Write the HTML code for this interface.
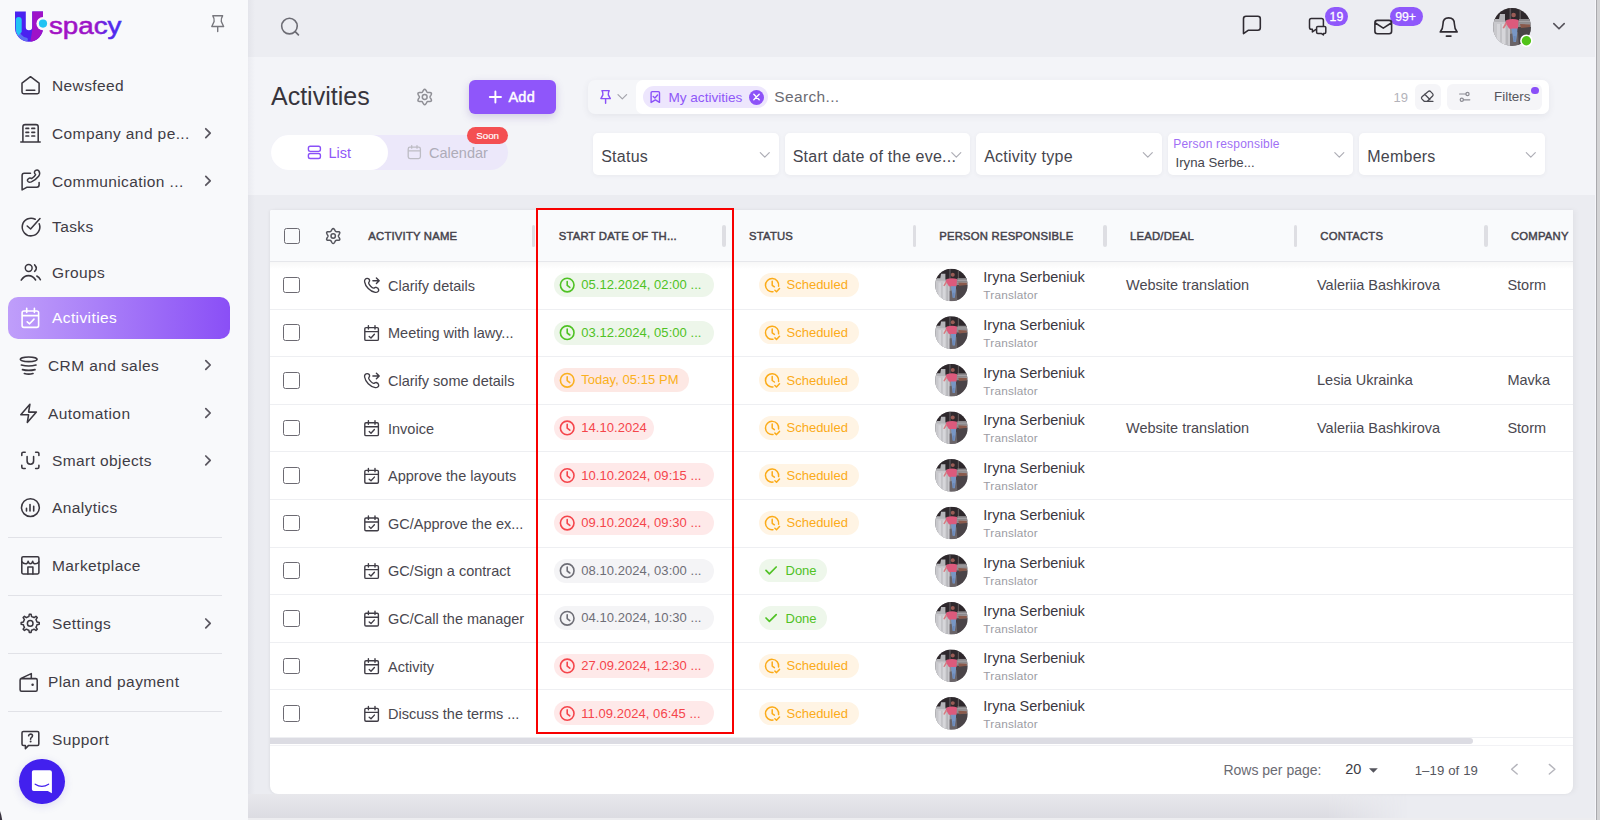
<!DOCTYPE html>
<html lang="en"><head><meta charset="utf-8"><title>Activities</title>
<style>
*{margin:0;padding:0;box-sizing:content-box;}
html,body{width:1600px;height:820px;overflow:hidden;background:#ecedf2;}
body{position:relative;font-family:"Liberation Sans", Arial, sans-serif;}
.t{position:absolute;white-space:nowrap;}
.b{position:absolute;}
.pill{border-radius:999px;}
#ov{position:absolute;left:0;top:0;overflow:visible;}
#ov path,#ov circle,#ov ellipse{stroke-linecap:round;stroke-linejoin:round;}
</style></head>
<body>
<div class="b" style="left:248px;top:0px;width:1348px;height:57px;background:#ecedf2;"></div>
<div class="b" style="left:248px;top:57px;width:1348px;height:138px;background:#f3f4f8;"></div>
<div class="b" style="left:248px;top:195px;width:1348px;height:625px;background:#ebecf1;"></div>
<div class="b" style="left:0px;top:0px;width:248px;height:820px;background:#f8f9fb;"></div>
<div class="b" style="left:248px;top:0px;width:7px;height:820px;background:linear-gradient(90deg,rgba(40,40,70,0.045),rgba(40,40,70,0));"></div>
<div class="b" style="left:8px;top:297px;width:222px;height:42px;border-radius:10px;background:linear-gradient(90deg,#bf9efa 0%,#aa80f8 40%,#8a4ff6 100%);"></div>
<div class="b" style="left:8px;top:537px;width:214px;height:1px;background:#e1e2e7;"></div>
<div class="b" style="left:8px;top:595px;width:214px;height:1px;background:#e1e2e7;"></div>
<div class="b" style="left:8px;top:653px;width:214px;height:1px;background:#e1e2e7;"></div>
<div class="b" style="left:8px;top:711.2px;width:214px;height:1px;background:#e1e2e7;"></div>
<div class="t" style="left:52px;top:78px;font-size:15.5px;line-height:15.5px;color:#3f3c45;font-weight:400;letter-spacing:0.4px;">Newsfeed</div>
<div class="t" style="left:52px;top:126px;font-size:15.5px;line-height:15.5px;color:#3f3c45;font-weight:400;letter-spacing:0.4px;">Company and pe...</div>
<div class="t" style="left:52px;top:174px;font-size:15.5px;line-height:15.5px;color:#3f3c45;font-weight:400;letter-spacing:0.4px;">Communication ...</div>
<div class="t" style="left:52px;top:219px;font-size:15.5px;line-height:15.5px;color:#3f3c45;font-weight:400;letter-spacing:0.4px;">Tasks</div>
<div class="t" style="left:52px;top:265px;font-size:15.5px;line-height:15.5px;color:#3f3c45;font-weight:400;letter-spacing:0.4px;">Groups</div>
<div class="t" style="left:52px;top:310px;font-size:15.5px;line-height:15.5px;color:#ffffff;font-weight:400;letter-spacing:0.4px;">Activities</div>
<div class="t" style="left:48px;top:358px;font-size:15.5px;line-height:15.5px;color:#3f3c45;font-weight:400;letter-spacing:0.4px;">CRM and sales</div>
<div class="t" style="left:48px;top:406px;font-size:15.5px;line-height:15.5px;color:#3f3c45;font-weight:400;letter-spacing:0.4px;">Automation</div>
<div class="t" style="left:52px;top:453px;font-size:15.5px;line-height:15.5px;color:#3f3c45;font-weight:400;letter-spacing:0.4px;">Smart objects</div>
<div class="t" style="left:52px;top:500px;font-size:15.5px;line-height:15.5px;color:#3f3c45;font-weight:400;letter-spacing:0.4px;">Analytics</div>
<div class="t" style="left:52px;top:558px;font-size:15.5px;line-height:15.5px;color:#3f3c45;font-weight:400;letter-spacing:0.4px;">Marketplace</div>
<div class="t" style="left:52px;top:616px;font-size:15.5px;line-height:15.5px;color:#3f3c45;font-weight:400;letter-spacing:0.4px;">Settings</div>
<div class="t" style="left:48px;top:674px;font-size:15.5px;line-height:15.5px;color:#3f3c45;font-weight:400;letter-spacing:0.4px;">Plan and payment</div>
<div class="t" style="left:52px;top:732px;font-size:15.5px;line-height:15.5px;color:#3f3c45;font-weight:400;letter-spacing:0.4px;">Support</div>
<div class="b" style="left:19px;top:758.7px;width:45.6px;height:45.6px;border-radius:50%;background:#4220ee;box-shadow:0 2px 10px rgba(40,20,180,0.12);"></div>
<div class="b pill" style="left:1325px;top:7px;width:23px;height:19px;background:#8f58fb;"></div>
<div class="t" style="left:1329.6px;top:11px;font-size:12.3px;line-height:12.3px;color:#fff;font-weight:400;-webkit-text-stroke:0.3px #fff;">19</div>
<div class="b pill" style="left:1390px;top:7px;width:33px;height:19px;background:#8f58fb;"></div>
<div class="t" style="left:1395.2px;top:11px;font-size:12.3px;line-height:12.3px;color:#fff;font-weight:400;-webkit-text-stroke:0.25px #fff;">99+</div>
<div class="b" style="left:1595px;top:0px;width:1px;height:820px;background:#f6f6fa;"></div>
<div class="b" style="left:1596px;top:0px;width:1.2px;height:820px;background:#a9a9ad;"></div>
<div class="b" style="left:1597.2px;top:0px;width:2.8px;height:820px;background:#d3d3d5;"></div>
<div class="t" style="left:271px;top:84px;font-size:25px;line-height:25px;color:#37343c;font-weight:400;">Activities</div>
<div class="b" style="left:469px;top:80px;width:87px;height:34px;border-radius:6px;background:#8f56fa;box-shadow:0 3px 8px rgba(90,60,160,0.22);"></div>
<div class="t" style="left:508.5px;top:90px;font-size:14.5px;line-height:14.5px;color:#fff;font-weight:400;-webkit-text-stroke:0.45px #fff;letter-spacing:0.2px;">Add</div>
<div class="b pill" style="left:271px;top:134.5px;width:237px;height:35.5px;background:#ece8fa;"></div>
<div class="b pill" style="left:271px;top:134.5px;width:117px;height:35.5px;background:#fff;"></div>
<div class="t" style="left:328.5px;top:146px;font-size:14.5px;line-height:14.5px;color:#8f58f8;font-weight:400;">List</div>
<div class="t" style="left:429px;top:146px;font-size:14.5px;line-height:14.5px;color:#aeacb8;font-weight:400;">Calendar</div>
<div class="b pill" style="left:467px;top:126.6px;width:41px;height:17.8px;background:#f44f52;"></div>
<div class="t" style="left:476.2px;top:131px;font-size:9.8px;line-height:9.8px;color:#fff;font-weight:400;-webkit-text-stroke:0.15px #fff;">Soon</div>
<div class="b" style="left:588px;top:80px;width:961px;height:34px;border-radius:7px;background:#f5f6f9;box-shadow:0 2px 7px rgba(60,60,90,0.08);"></div>
<div class="b" style="left:636px;top:80px;width:913px;height:34px;border-radius:7px;background:#fff;"></div>
<div class="b pill" style="left:643px;top:86.1px;width:125px;height:21.5px;background:#ede6fd;"></div>
<div class="t" style="left:668.4px;top:91px;font-size:13.6px;line-height:13.6px;color:#8f58f8;font-weight:400;">My activities</div>
<div class="b" style="left:749px;top:89.5px;width:15px;height:15px;border-radius:50%;background:#8d52f8;"></div>
<div class="t" style="left:774.3px;top:89px;font-size:15.5px;line-height:15.5px;color:#6b6b73;font-weight:400;letter-spacing:0.35px;">Search...</div>
<div class="t" style="left:1393.5px;top:91px;font-size:13px;line-height:13px;color:#b3b3ba;font-weight:400;">19</div>
<div class="b" style="left:1414.5px;top:84px;width:26.5px;height:26px;border-radius:6px;background:#f5f5f8;"></div>
<div class="b" style="left:1447px;top:84px;width:94.5px;height:26px;border-radius:6px;background:#f5f5f8;"></div>
<div class="t" style="left:1494px;top:90px;font-size:13.4px;line-height:13.4px;color:#55555d;font-weight:400;">Filters</div>
<div class="b" style="left:1531.4px;top:86.8px;width:7.6px;height:7.6px;border-radius:50%;background:#8a4ff8;"></div>
<div class="b" style="left:593px;top:133.3px;width:185.5px;height:41.7px;border-radius:5px;background:#fff;box-shadow:0 1px 4px rgba(60,60,90,0.06);"></div>
<div class="t" style="left:601.2px;top:149px;font-size:16px;line-height:16px;color:#45454d;font-weight:400;letter-spacing:0.25px;">Status</div>
<div class="b" style="left:784.5px;top:133.3px;width:185.5px;height:41.7px;border-radius:5px;background:#fff;box-shadow:0 1px 4px rgba(60,60,90,0.06);"></div>
<div class="t" style="left:792.7px;top:149px;font-size:16px;line-height:16px;color:#45454d;font-weight:400;letter-spacing:0.25px;">Start date of the eve...</div>
<div class="b" style="left:976px;top:133.3px;width:185.5px;height:41.7px;border-radius:5px;background:#fff;box-shadow:0 1px 4px rgba(60,60,90,0.06);"></div>
<div class="t" style="left:984.2px;top:149px;font-size:16px;line-height:16px;color:#45454d;font-weight:400;letter-spacing:0.25px;">Activity type</div>
<div class="b" style="left:1167.5px;top:133.3px;width:185.5px;height:41.7px;border-radius:5px;background:#fff;box-shadow:0 1px 4px rgba(60,60,90,0.06);"></div>
<div class="b" style="left:1359px;top:133.3px;width:185.5px;height:41.7px;border-radius:5px;background:#fff;box-shadow:0 1px 4px rgba(60,60,90,0.06);"></div>
<div class="t" style="left:1367.2px;top:149px;font-size:16px;line-height:16px;color:#45454d;font-weight:400;letter-spacing:0.25px;">Members</div>
<div class="t" style="left:1173.3px;top:138px;font-size:12px;line-height:12px;color:#a070f5;font-weight:400;letter-spacing:0.2px;">Person responsible</div>
<div class="t" style="left:1175.5px;top:156px;font-size:13.2px;line-height:13.2px;color:#45454d;font-weight:400;">Iryna Serbe...</div>
<div class="b" style="left:270px;top:210px;width:1303px;height:584px;background:#fff;border-radius:2px 0 8px 8px;box-shadow:-1px 0 3px rgba(0,0,0,0.05),3px 0 5px rgba(0,0,0,0.035);"></div>
<div class="b" style="left:270px;top:210px;width:1303px;height:51px;background:#f9fafc;border-radius:2px 0 0 0;"></div>
<div class="b" style="left:270px;top:261px;width:1303px;height:1px;background:#e6e7eb;"></div>
<div class="b" style="left:270px;top:262px;width:1303px;height:7px;background:linear-gradient(180deg,rgba(0,0,0,0.03),rgba(0,0,0,0));"></div>
<div class="b" style="left:283.5px;top:227.5px;width:16.8px;height:16.8px;border:1.9px solid #6c6a72;border-radius:2.5px;box-sizing:border-box;"></div>
<div class="t" style="left:368.3px;top:231px;font-size:11.3px;line-height:11.3px;color:#45424b;font-weight:400;letter-spacing:0.2px;-webkit-text-stroke:0.45px #45424b;">ACTIVITY NAME</div>
<div class="t" style="left:558.7px;top:231px;font-size:11.3px;line-height:11.3px;color:#45424b;font-weight:400;letter-spacing:0.2px;-webkit-text-stroke:0.45px #45424b;">START DATE OF TH...</div>
<div class="t" style="left:749px;top:231px;font-size:11.3px;line-height:11.3px;color:#45424b;font-weight:400;letter-spacing:0.2px;-webkit-text-stroke:0.45px #45424b;">STATUS</div>
<div class="t" style="left:939.3px;top:231px;font-size:11.3px;line-height:11.3px;color:#45424b;font-weight:400;letter-spacing:0.2px;-webkit-text-stroke:0.45px #45424b;">PERSON RESPONSIBLE</div>
<div class="t" style="left:1130px;top:231px;font-size:11.3px;line-height:11.3px;color:#45424b;font-weight:400;letter-spacing:0.2px;-webkit-text-stroke:0.45px #45424b;">LEAD/DEAL</div>
<div class="t" style="left:1320.3px;top:231px;font-size:11.3px;line-height:11.3px;color:#45424b;font-weight:400;letter-spacing:0.2px;-webkit-text-stroke:0.45px #45424b;">CONTACTS</div>
<div class="t" style="left:1511px;top:231px;font-size:11.3px;line-height:11.3px;color:#45424b;font-weight:400;letter-spacing:0.2px;-webkit-text-stroke:0.45px #45424b;">COMPANY</div>
<div class="b" style="left:531.5px;top:225px;width:3.5px;height:22px;background:#dedee3;border-radius:2px;"></div>
<div class="b" style="left:722px;top:225px;width:3.5px;height:22px;background:#dedee3;border-radius:2px;"></div>
<div class="b" style="left:912.5px;top:225px;width:3.5px;height:22px;background:#dedee3;border-radius:2px;"></div>
<div class="b" style="left:1103px;top:225px;width:3.5px;height:22px;background:#dedee3;border-radius:2px;"></div>
<div class="b" style="left:1293.5px;top:225px;width:3.5px;height:22px;background:#dedee3;border-radius:2px;"></div>
<div class="b" style="left:1484px;top:225px;width:3.5px;height:22px;background:#dedee3;border-radius:2px;"></div>
<div class="b" style="left:283.2px;top:276.70px;width:16.8px;height:16.8px;border:1.9px solid #6c6a72;border-radius:2.5px;box-sizing:border-box;"></div>
<div class="t" style="left:388px;top:279px;font-size:14.5px;line-height:14.5px;color:#4a4850;font-weight:400;">Clarify details</div>
<div class="b pill" style="left:554px;top:272.90px;width:160.3px;height:24px;background:#edf6ea;"></div>
<div class="t" style="left:581.2px;top:278px;font-size:13px;line-height:13px;color:#4fc224;font-weight:400;letter-spacing:0.05px;">05.12.2024, 02:00 ...</div>
<div class="b pill" style="left:759px;top:273.20px;width:99.5px;height:23.6px;background:#fff4e4;"></div>
<div class="t" style="left:786.5px;top:278px;font-size:13px;line-height:13px;color:#fbab18;font-weight:400;">Scheduled</div>
<div class="t" style="left:983.3px;top:270px;font-size:14.5px;line-height:14.5px;color:#3a3740;font-weight:400;">Iryna Serbeniuk</div>
<div class="t" style="left:983.3px;top:290px;font-size:11.8px;line-height:11.8px;color:#9c9ca3;font-weight:400;letter-spacing:0.2px;">Translator</div>
<div class="t" style="left:1126px;top:278px;font-size:14.5px;line-height:14.5px;color:#4a4850;font-weight:400;">Website translation</div>
<div class="t" style="left:1317px;top:278px;font-size:14.5px;line-height:14.5px;color:#4a4850;font-weight:400;">Valeriia Bashkirova</div>
<div class="t" style="left:1507.4px;top:278px;font-size:14.5px;line-height:14.5px;color:#4a4850;font-weight:400;">Storm</div>
<div class="b" style="left:270px;top:308.6px;width:1303px;height:1px;background:#eeeff2;"></div>
<div class="b" style="left:283.2px;top:324.30px;width:16.8px;height:16.8px;border:1.9px solid #6c6a72;border-radius:2.5px;box-sizing:border-box;"></div>
<div class="t" style="left:388px;top:326px;font-size:14.5px;line-height:14.5px;color:#4a4850;font-weight:400;">Meeting with lawy...</div>
<div class="b pill" style="left:554px;top:320.50px;width:160.3px;height:24px;background:#edf6ea;"></div>
<div class="t" style="left:581.2px;top:326px;font-size:13px;line-height:13px;color:#4fc224;font-weight:400;letter-spacing:0.05px;">03.12.2024, 05:00 ...</div>
<div class="b pill" style="left:759px;top:320.80px;width:99.5px;height:23.6px;background:#fff4e4;"></div>
<div class="t" style="left:786.5px;top:326px;font-size:13px;line-height:13px;color:#fbab18;font-weight:400;">Scheduled</div>
<div class="t" style="left:983.3px;top:318px;font-size:14.5px;line-height:14.5px;color:#3a3740;font-weight:400;">Iryna Serbeniuk</div>
<div class="t" style="left:983.3px;top:338px;font-size:11.8px;line-height:11.8px;color:#9c9ca3;font-weight:400;letter-spacing:0.2px;">Translator</div>
<div class="b" style="left:270px;top:356.2px;width:1303px;height:1px;background:#eeeff2;"></div>
<div class="b" style="left:283.2px;top:371.90px;width:16.8px;height:16.8px;border:1.9px solid #6c6a72;border-radius:2.5px;box-sizing:border-box;"></div>
<div class="t" style="left:388px;top:374px;font-size:14.5px;line-height:14.5px;color:#4a4850;font-weight:400;">Clarify some details</div>
<div class="b pill" style="left:554px;top:368.10px;width:135px;height:24px;background:#fde8e4;"></div>
<div class="t" style="left:581.2px;top:373px;font-size:13px;line-height:13px;color:#fab020;font-weight:400;letter-spacing:0.05px;">Today, 05:15 PM</div>
<div class="b pill" style="left:759px;top:368.40px;width:99.5px;height:23.6px;background:#fff4e4;"></div>
<div class="t" style="left:786.5px;top:374px;font-size:13px;line-height:13px;color:#fbab18;font-weight:400;">Scheduled</div>
<div class="t" style="left:983.3px;top:366px;font-size:14.5px;line-height:14.5px;color:#3a3740;font-weight:400;">Iryna Serbeniuk</div>
<div class="t" style="left:983.3px;top:386px;font-size:11.8px;line-height:11.8px;color:#9c9ca3;font-weight:400;letter-spacing:0.2px;">Translator</div>
<div class="t" style="left:1317px;top:373px;font-size:14.5px;line-height:14.5px;color:#4a4850;font-weight:400;">Lesia Ukrainka</div>
<div class="t" style="left:1507.4px;top:373px;font-size:14.5px;line-height:14.5px;color:#4a4850;font-weight:400;">Mavka</div>
<div class="b" style="left:270px;top:403.8px;width:1303px;height:1px;background:#eeeff2;"></div>
<div class="b" style="left:283.2px;top:419.50px;width:16.8px;height:16.8px;border:1.9px solid #6c6a72;border-radius:2.5px;box-sizing:border-box;"></div>
<div class="t" style="left:388px;top:422px;font-size:14.5px;line-height:14.5px;color:#4a4850;font-weight:400;">Invoice</div>
<div class="b pill" style="left:554px;top:415.70px;width:100px;height:24px;background:#fee9e9;"></div>
<div class="t" style="left:581.2px;top:421px;font-size:13px;line-height:13px;color:#f5454b;font-weight:400;letter-spacing:0.05px;">14.10.2024</div>
<div class="b pill" style="left:759px;top:416.00px;width:99.5px;height:23.6px;background:#fff4e4;"></div>
<div class="t" style="left:786.5px;top:421px;font-size:13px;line-height:13px;color:#fbab18;font-weight:400;">Scheduled</div>
<div class="t" style="left:983.3px;top:413px;font-size:14.5px;line-height:14.5px;color:#3a3740;font-weight:400;">Iryna Serbeniuk</div>
<div class="t" style="left:983.3px;top:433px;font-size:11.8px;line-height:11.8px;color:#9c9ca3;font-weight:400;letter-spacing:0.2px;">Translator</div>
<div class="t" style="left:1126px;top:421px;font-size:14.5px;line-height:14.5px;color:#4a4850;font-weight:400;">Website translation</div>
<div class="t" style="left:1317px;top:421px;font-size:14.5px;line-height:14.5px;color:#4a4850;font-weight:400;">Valeriia Bashkirova</div>
<div class="t" style="left:1507.4px;top:421px;font-size:14.5px;line-height:14.5px;color:#4a4850;font-weight:400;">Storm</div>
<div class="b" style="left:270px;top:451.4px;width:1303px;height:1px;background:#eeeff2;"></div>
<div class="b" style="left:283.2px;top:467.10px;width:16.8px;height:16.8px;border:1.9px solid #6c6a72;border-radius:2.5px;box-sizing:border-box;"></div>
<div class="t" style="left:388px;top:469px;font-size:14.5px;line-height:14.5px;color:#4a4850;font-weight:400;">Approve the layouts</div>
<div class="b pill" style="left:554px;top:463.30px;width:160.3px;height:24px;background:#fee9e9;"></div>
<div class="t" style="left:581.2px;top:469px;font-size:13px;line-height:13px;color:#f5454b;font-weight:400;letter-spacing:0.05px;">10.10.2024, 09:15 ...</div>
<div class="b pill" style="left:759px;top:463.60px;width:99.5px;height:23.6px;background:#fff4e4;"></div>
<div class="t" style="left:786.5px;top:469px;font-size:13px;line-height:13px;color:#fbab18;font-weight:400;">Scheduled</div>
<div class="t" style="left:983.3px;top:461px;font-size:14.5px;line-height:14.5px;color:#3a3740;font-weight:400;">Iryna Serbeniuk</div>
<div class="t" style="left:983.3px;top:481px;font-size:11.8px;line-height:11.8px;color:#9c9ca3;font-weight:400;letter-spacing:0.2px;">Translator</div>
<div class="b" style="left:270px;top:499.0px;width:1303px;height:1px;background:#eeeff2;"></div>
<div class="b" style="left:283.2px;top:514.70px;width:16.8px;height:16.8px;border:1.9px solid #6c6a72;border-radius:2.5px;box-sizing:border-box;"></div>
<div class="t" style="left:388px;top:517px;font-size:14.5px;line-height:14.5px;color:#4a4850;font-weight:400;">GC/Approve the ex...</div>
<div class="b pill" style="left:554px;top:510.90px;width:160.3px;height:24px;background:#fee9e9;"></div>
<div class="t" style="left:581.2px;top:516px;font-size:13px;line-height:13px;color:#f5454b;font-weight:400;letter-spacing:0.05px;">09.10.2024, 09:30 ...</div>
<div class="b pill" style="left:759px;top:511.20px;width:99.5px;height:23.6px;background:#fff4e4;"></div>
<div class="t" style="left:786.5px;top:516px;font-size:13px;line-height:13px;color:#fbab18;font-weight:400;">Scheduled</div>
<div class="t" style="left:983.3px;top:508px;font-size:14.5px;line-height:14.5px;color:#3a3740;font-weight:400;">Iryna Serbeniuk</div>
<div class="t" style="left:983.3px;top:528px;font-size:11.8px;line-height:11.8px;color:#9c9ca3;font-weight:400;letter-spacing:0.2px;">Translator</div>
<div class="b" style="left:270px;top:546.6px;width:1303px;height:1px;background:#eeeff2;"></div>
<div class="b" style="left:283.2px;top:562.30px;width:16.8px;height:16.8px;border:1.9px solid #6c6a72;border-radius:2.5px;box-sizing:border-box;"></div>
<div class="t" style="left:388px;top:564px;font-size:14.5px;line-height:14.5px;color:#4a4850;font-weight:400;">GC/Sign a contract</div>
<div class="b pill" style="left:554px;top:558.50px;width:160.3px;height:24px;background:#f4f4f6;"></div>
<div class="t" style="left:581.2px;top:564px;font-size:13px;line-height:13px;color:#6e6e76;font-weight:400;letter-spacing:0.05px;">08.10.2024, 03:00 ...</div>
<div class="b pill" style="left:759px;top:558.60px;width:68px;height:23.6px;background:#eef7eb;"></div>
<div class="t" style="left:785.5px;top:564px;font-size:13px;line-height:13px;color:#4fc224;font-weight:400;">Done</div>
<div class="t" style="left:983.3px;top:556px;font-size:14.5px;line-height:14.5px;color:#3a3740;font-weight:400;">Iryna Serbeniuk</div>
<div class="t" style="left:983.3px;top:576px;font-size:11.8px;line-height:11.8px;color:#9c9ca3;font-weight:400;letter-spacing:0.2px;">Translator</div>
<div class="b" style="left:270px;top:594.2px;width:1303px;height:1px;background:#eeeff2;"></div>
<div class="b" style="left:283.2px;top:609.90px;width:16.8px;height:16.8px;border:1.9px solid #6c6a72;border-radius:2.5px;box-sizing:border-box;"></div>
<div class="t" style="left:388px;top:612px;font-size:14.5px;line-height:14.5px;color:#4a4850;font-weight:400;">GC/Call the manager</div>
<div class="b pill" style="left:554px;top:606.10px;width:160.3px;height:24px;background:#f4f4f6;"></div>
<div class="t" style="left:581.2px;top:611px;font-size:13px;line-height:13px;color:#6e6e76;font-weight:400;letter-spacing:0.05px;">04.10.2024, 10:30 ...</div>
<div class="b pill" style="left:759px;top:606.20px;width:68px;height:23.6px;background:#eef7eb;"></div>
<div class="t" style="left:785.5px;top:612px;font-size:13px;line-height:13px;color:#4fc224;font-weight:400;">Done</div>
<div class="t" style="left:983.3px;top:604px;font-size:14.5px;line-height:14.5px;color:#3a3740;font-weight:400;">Iryna Serbeniuk</div>
<div class="t" style="left:983.3px;top:624px;font-size:11.8px;line-height:11.8px;color:#9c9ca3;font-weight:400;letter-spacing:0.2px;">Translator</div>
<div class="b" style="left:270px;top:641.8px;width:1303px;height:1px;background:#eeeff2;"></div>
<div class="b" style="left:283.2px;top:657.50px;width:16.8px;height:16.8px;border:1.9px solid #6c6a72;border-radius:2.5px;box-sizing:border-box;"></div>
<div class="t" style="left:388px;top:660px;font-size:14.5px;line-height:14.5px;color:#4a4850;font-weight:400;">Activity</div>
<div class="b pill" style="left:554px;top:653.70px;width:160.3px;height:24px;background:#fee9e9;"></div>
<div class="t" style="left:581.2px;top:659px;font-size:13px;line-height:13px;color:#f5454b;font-weight:400;letter-spacing:0.05px;">27.09.2024, 12:30 ...</div>
<div class="b pill" style="left:759px;top:654.00px;width:99.5px;height:23.6px;background:#fff4e4;"></div>
<div class="t" style="left:786.5px;top:659px;font-size:13px;line-height:13px;color:#fbab18;font-weight:400;">Scheduled</div>
<div class="t" style="left:983.3px;top:651px;font-size:14.5px;line-height:14.5px;color:#3a3740;font-weight:400;">Iryna Serbeniuk</div>
<div class="t" style="left:983.3px;top:671px;font-size:11.8px;line-height:11.8px;color:#9c9ca3;font-weight:400;letter-spacing:0.2px;">Translator</div>
<div class="b" style="left:270px;top:689.4000000000001px;width:1303px;height:1px;background:#eeeff2;"></div>
<div class="b" style="left:283.2px;top:705.10px;width:16.8px;height:16.8px;border:1.9px solid #6c6a72;border-radius:2.5px;box-sizing:border-box;"></div>
<div class="t" style="left:388px;top:707px;font-size:14.5px;line-height:14.5px;color:#4a4850;font-weight:400;">Discuss the terms ...</div>
<div class="b pill" style="left:554px;top:701.30px;width:160.3px;height:24px;background:#fee9e9;"></div>
<div class="t" style="left:581.2px;top:707px;font-size:13px;line-height:13px;color:#f5454b;font-weight:400;letter-spacing:0.05px;">11.09.2024, 06:45 ...</div>
<div class="b pill" style="left:759px;top:701.60px;width:99.5px;height:23.6px;background:#fff4e4;"></div>
<div class="t" style="left:786.5px;top:707px;font-size:13px;line-height:13px;color:#fbab18;font-weight:400;">Scheduled</div>
<div class="t" style="left:983.3px;top:699px;font-size:14.5px;line-height:14.5px;color:#3a3740;font-weight:400;">Iryna Serbeniuk</div>
<div class="t" style="left:983.3px;top:719px;font-size:11.8px;line-height:11.8px;color:#9c9ca3;font-weight:400;letter-spacing:0.2px;">Translator</div>
<div class="b" style="left:270px;top:737px;width:1303px;height:1px;background:#eeeff2;"></div>
<div class="b" style="left:270px;top:737.6px;width:1203px;height:6.8px;background:#dcdce3;border-radius:0 4px 4px 0;"></div>
<div class="b" style="left:270px;top:744.5px;width:1303px;height:1px;background:#f2f2f5;"></div>
<div class="t" style="left:1223.4px;top:763px;font-size:14px;line-height:14px;color:#6b6b73;font-weight:400;">Rows per page:</div>
<div class="t" style="left:1345.3px;top:762px;font-size:14.5px;line-height:14.5px;color:#3c3c44;font-weight:400;">20</div>
<div class="t" style="left:1414.7px;top:764px;font-size:13.2px;line-height:13.2px;color:#55555d;font-weight:400;letter-spacing:0.1px;">1–19 of 19</div>
<div class="b" style="left:536px;top:208px;width:198.2px;height:526px;border:2.8px solid #f80000;box-sizing:border-box;"></div>
<div class="b" style="left:248px;top:794px;width:1347px;height:24px;background:linear-gradient(180deg,#e8e8ec,#dcdce2);-webkit-mask-image:linear-gradient(90deg,#000 0,#000 1080px,transparent 1160px);mask-image:linear-gradient(90deg,#000 0,#000 1080px,transparent 1160px);"></div>
<div class="b" style="left:248px;top:818px;width:1347px;height:2px;background:#ededf0;"></div>
<svg id="ov" width="1600" height="820" viewBox="0 0 1600 820" fill="none">
<defs>
<clipPath id="avc"><circle cx="19" cy="19" r="19"/></clipPath>
<linearGradient id="lgU" gradientUnits="userSpaceOnUse" x1="15" y1="0" x2="43" y2="0"><stop offset="0" stop-color="#4a24ee"/><stop offset="0.57" stop-color="#4a22f0"/><stop offset="0.63" stop-color="#9a12cc"/><stop offset="1" stop-color="#a010c6"/></linearGradient>
<linearGradient id="lgT" gradientUnits="userSpaceOnUse" x1="49" y1="0" x2="122" y2="0"><stop offset="0" stop-color="#a311c3"/><stop offset="0.62" stop-color="#9a14c8"/><stop offset="0.8" stop-color="#5a26ea"/><stop offset="1" stop-color="#4a2cf2"/></linearGradient>
</defs>
<clipPath id="uclip"><path d="M15 11.5 H25.8 V27 A3.2 3.2 0 0 0 32.2 27 V11.5 H43 V27.8 A14 14 0 0 1 15 27.8 Z"/></clipPath>
<path d="M15 11.5 H25.8 V27 A3.2 3.2 0 0 0 32.2 27 V11.5 H43 V27.8 A14 14 0 0 1 15 27.8 Z" fill="#4a22f0"/>
<g clip-path="url(#uclip)"><path d="M32.2 0 H50 V50 H29.6 L30.6 40 L32.2 30.5 Z" fill="#9e12c8"/><path d="M17.6 31.2 A12 12 0 0 0 26.2 39.5" stroke="#5d70f2" stroke-width="3.4" fill="none"/><path d="M15.7 20 A3 3 0 0 1 21.7 20 V32 L18.2 35.8 Q15.7 33 15.7 28 Z" fill="#22c3f3"/></g>
<circle cx="43" cy="23.6" r="6.6" fill="#f8f9fb"/><circle cx="43" cy="23.6" r="4.1" fill="#20c3f3"/>
<text x="49" y="33.9" font-family="Liberation Sans, Arial, sans-serif" font-size="24.5" fill="url(#lgT)" stroke="url(#lgT)" stroke-width="0.55" textLength="72.5" lengthAdjust="spacingAndGlyphs">spacy</text>
<path d="M212.8 15.8 H222.6 Q221 18 221.3 21.5 L223.6 26.5 H211.8 L214.1 21.5 Q214.4 18 212.8 15.8 Z M217.7 26.5 V31.5" stroke="#77777d" stroke-width="1.4" fill="none" />
<path d="M205.8 128.8 L210.2 133.2 L205.8 137.6" stroke="#5a5760" stroke-width="1.75" fill="none" />
<path d="M205.8 176.4 L210.2 180.8 L205.8 185.2" stroke="#5a5760" stroke-width="1.75" fill="none" />
<path d="M205.8 360.6 L210.2 365.0 L205.8 369.4" stroke="#5a5760" stroke-width="1.75" fill="none" />
<path d="M205.8 408.6 L210.2 413.0 L205.8 417.4" stroke="#5a5760" stroke-width="1.75" fill="none" />
<path d="M205.8 456.0 L210.2 460.4 L205.8 464.8" stroke="#5a5760" stroke-width="1.75" fill="none" />
<path d="M205.8 619.0 L210.2 623.4 L205.8 627.8" stroke="#5a5760" stroke-width="1.75" fill="none" />
<path d="M22 83.2 L30.5 76.7 L39.1 83.2 V92 Q39.1 93.7 37.4 93.7 H23.7 Q22 93.7 22 92 Z M26.3 90.3 H34.8" stroke="#3a373f" stroke-width="1.55" fill="none" />
<path d="M22.9 141.5 V126.8 Q22.9 124.6 25.1 124.6 H36 Q38.2 124.6 38.2 126.8 V141.5 M20.8 141.9 H40.2" stroke="#3a373f" stroke-width="1.55" fill="none" />
<path d="M26 128.4 H28.6 M31.9 128.4 H34.6 M26 132.3 H28.6 M31.9 132.3 H34.6 M26 136 H28.6 M31.9 136 H34.6" stroke="#3a373f" stroke-width="1.7" fill="none" />
<path d="M30.5 173.2 H24.3 Q22.1 173.2 22.1 175.4 V189.9 L26.7 187.3 H36.6 Q39.1 187.3 39.1 184.8 V182.4" stroke="#3a373f" stroke-width="1.55" fill="none" />
<path d="M35.3 170.6 Q37.4 169.2 38.9 171 Q40.6 173.4 38.6 176.3 Q35.8 179.9 31.4 181.9 Q28.6 183 27.6 181 Q27 179.3 29 178.3 Q30.4 177.8 31.6 178.6 Q34.3 177.2 35.6 174.6 Q34.4 173.6 34.4 172.3 Q34.5 171.2 35.3 170.6 Z" stroke="#3a373f" stroke-width="1.5" fill="none" />
<path d="M39.2 223.8 A8.8 8.8 0 1 1 35.2 219.3" stroke="#3a373f" stroke-width="1.55" fill="none" />
<path d="M27.2 226 L30.6 229 L40 218.6" stroke="#3a373f" stroke-width="1.55" fill="none" />
<circle cx="28.7" cy="268" r="3.4" stroke="#3a373f" stroke-width="1.5" fill="none"/>
<path d="M21.2 280.2 Q24 275.6 28.5 275.6 Q33 275.6 35.6 280 M34.6 264.8 Q36.6 266.6 36.2 269 Q35.9 270.4 34.6 271.4 M36.8 276 Q39.4 277.2 40.4 279.8" stroke="#3a373f" stroke-width="1.55" fill="none" />
<path d="M23.9 311 H36.8 Q38.6 311 38.6 312.8 V325.6 Q38.6 327.4 36.8 327.4 H23.9 Q22.1 327.4 22.1 325.6 V312.8 Q22.1 311 23.9 311 Z M22.1 315.6 H38.6 M26.7 308.3 V312.5 M34.4 308.3 V312.5 M27.2 321.8 L29.6 323.8 L34 319.1" stroke="#ffffff" stroke-width="1.6" fill="none" />
<ellipse cx="28.7" cy="359.3" rx="8.4" ry="2.3" stroke="#3a373f" stroke-width="1.6" fill="none"/>
<path d="M21.4 365 Q28.7 367 36 365 M22.5 369.6 Q28.7 371.3 35 369.6 M24.4 373.5 Q28.7 374.6 33 373.5" stroke="#3a373f" stroke-width="1.7" fill="none" />
<path d="M29.9 404.3 L20.8 414.7 H28.6 L27.3 422.5 L36.4 412.1 H28.6 Z" stroke="#3a373f" stroke-width="1.55" fill="none" />
<path d="M21.8 455.5 V453.6 Q21.8 452.2 23.2 452.2 H25.2 M35.6 452.2 H37.5 Q38.9 452.2 38.9 453.6 V455.5 M38.9 465.2 V467.1 Q38.9 468.5 37.5 468.5 H35.6 M25.2 468.5 H23.2 Q21.8 468.5 21.8 467.1 V465.2 M27.1 456.4 V461 Q27.1 464.2 30.4 464.2 Q33.6 464.2 33.6 461 V456.4" stroke="#3a373f" stroke-width="1.55" fill="none" />
<circle cx="30.4" cy="507.6" r="8.9" stroke="#3a373f" stroke-width="1.55" fill="none"/>
<path d="M26.5 508.2 V511 M30 504.6 V511 M33.7 506.3 V511" stroke="#3a373f" stroke-width="1.6" fill="none" />
<path d="M23.1 556.8 H37.6 Q38.9 556.8 38.9 558.1 V572.6 Q38.9 573.9 37.6 573.9 H23.1 Q21.8 573.9 21.8 572.6 V558.1 Q21.8 556.8 23.1 556.8 Z" stroke="#3a373f" stroke-width="1.55" fill="none" />
<path d="M21.8 561.8 Q23.2 563.8 25.6 563.8 Q27.6 563.8 28.1 561.3 Q28.8 563.8 30.4 563.8 Q32 563.8 32.7 561.3 Q33.2 563.8 35.2 563.8 Q37.6 563.8 38.9 561.8 M27.9 573.9 V567 H32.9 V573.9" stroke="#3a373f" stroke-width="1.55" fill="none" />
<path d="M36.97 622.05 L39.25 622.47 L39.25 624.33 L36.97 624.75 L36.57 626.04 L35.94 627.23 L37.26 629.15 L35.95 630.46 L34.03 629.14 L32.84 629.77 L31.55 630.17 L31.13 632.45 L29.27 632.45 L28.85 630.17 L27.56 629.77 L26.37 629.14 L24.45 630.46 L23.14 629.15 L24.46 627.23 L23.83 626.04 L23.43 624.75 L21.15 624.33 L21.15 622.47 L23.43 622.05 L23.83 620.76 L24.46 619.57 L23.14 617.65 L24.45 616.34 L26.37 617.66 L27.56 617.03 L28.85 616.63 L29.27 614.35 L31.13 614.35 L31.55 616.63 L32.84 617.03 L34.03 617.66 L35.95 616.34 L37.26 617.65 L35.94 619.57 L36.57 620.76 Z" stroke="#3a373f" stroke-width="1.5" fill="none" />
<circle cx="30.2" cy="623.4" r="2.8" stroke="#3a373f" stroke-width="1.5" fill="none"/>
<path d="M21.5 678.6 H35.8 Q37.2 678.6 37.2 680 V689.8 Q37.2 691.2 35.8 691.2 H21.5 Q20.1 691.2 20.1 689.8 V680 Q20.1 678.6 21.5 678.6 Z M21 678.4 L31.3 673.6 V678.4" stroke="#3a373f" stroke-width="1.55" fill="none" />
<circle cx="32.6" cy="684.8" r="1.25" fill="#3a373f"/>
<path d="M23.4 731.4 H37.4 Q38.8 731.4 38.8 732.8 V744 Q38.8 745.4 37.4 745.4 H28.6 L25.4 748.8 V745.4 H23.4 Q22 745.4 22 744 V732.8 Q22 731.4 23.4 731.4 Z" stroke="#3a373f" stroke-width="1.55" fill="none" />
<path d="M28.6 735.8 Q28.8 734 30.6 734 Q32.5 734.1 32.5 735.8 Q32.4 737 31.3 737.6 Q30.6 738 30.6 739.3" stroke="#3a373f" stroke-width="1.6" fill="none" />
<circle cx="30.6" cy="741.6" r="1.0" fill="#3a373f"/>
<path d="M33.7 770.3 H49.9 Q51.9 770.3 51.9 772.3 V793.3 L47.8 791 H33.7 Q31.9 791 31.9 789.2 V772.1 Q31.9 770.3 33.7 770.3 Z" fill="#ffffff"/>
<path d="M35.2 784.2 Q41.9 788.4 48.6 784.2" stroke="#4220ee" stroke-width="1.3" fill="none" />
<path d="M0 811 Q1.5 815 2.2 820 H0 Z" fill="#3a3540"/>
<circle cx="289.45" cy="26.1" r="7.8" stroke="#6c6c74" stroke-width="1.6" fill="none"/>
<path d="M295.2 31.7 L298.4 34.9" stroke="#6c6c74" stroke-width="1.7" fill="none" />
<path d="M1246 16.2 H1257.8 Q1260.3 16.2 1260.3 18.7 V27.8 Q1260.3 30.3 1257.8 30.3 H1248.1 L1243.5 33.6 V18.7 Q1243.5 16.2 1246 16.2 Z" stroke="#2f2b32" stroke-width="1.6" fill="none" />
<path d="M1316.6 27.6 Q1316.6 26.4 1317.8 26.4 H1324.6 Q1325.8 26.4 1325.8 27.6 V32.2 Q1325.8 33.4 1324.6 33.4 H1323.4 V35 L1321.2 33.4 H1317.8 Q1316.6 33.4 1316.6 32.2 Z" stroke="#2f2b32" stroke-width="1.5" fill="none" />
<path d="M1323.4 26.2 V20.4 Q1323.4 18.6 1321.6 18.6 H1311.3 Q1309.5 18.6 1309.5 20.4 V27.4 Q1309.5 29.2 1311.3 29.2 H1312.4 V32 L1315.6 29.6" stroke="#2f2b32" stroke-width="1.5" fill="none" />
<path d="M1377.4 20.4 H1389.1 Q1391.6 20.4 1391.6 22.9 V31.3 Q1391.6 33.8 1389.1 33.8 H1377.4 Q1374.9 33.8 1374.9 31.3 V22.9 Q1374.9 20.4 1377.4 20.4 Z M1375.4 23 L1383.3 28.1 L1391.2 23" stroke="#2f2b32" stroke-width="1.6" fill="none" />
<path d="M1448.6 17.9 Q1443 17.9 1443 24 Q1443 28.6 1440.2 31.9 H1457.2 Q1454.4 28.6 1454.4 24 Q1454.4 17.9 1448.6 17.9 Z" stroke="#2f2b32" stroke-width="1.6" fill="none" />
<path d="M1446.5 36.1 H1450.8" stroke="#2f2b32" stroke-width="1.9" fill="none" />
<g transform="translate(1493.00 8.00) scale(1.0000)" clip-path="url(#avc)"><rect x="0" y="0" width="38" height="38" fill="#8e8c90"/><rect x="0" y="0" width="38" height="12.5" fill="#2e282c"/><rect x="16.5" y="0" width="1.6" height="12" fill="#5a5458"/><rect x="26.5" y="2" width="1.4" height="10" fill="#5c5658"/><path d="M0 11 H6 L7 6 H12 V38 H0 Z" fill="#b4b4b8"/><path d="M1 14 H17 V38 H1 Z" fill="#c8c8cc"/><path d="M4 16 H12 V38 H4 Z" fill="#d6d6da"/><rect x="7.5" y="16" width="1" height="22" fill="#b0b0b4"/><rect x="13.5" y="16" width="1" height="22" fill="#a8a8ac"/><rect x="26" y="11" width="12" height="8" fill="#8a878a"/><rect x="26" y="13" width="12" height="1.2" fill="#a6a3a6"/><rect x="26" y="15.5" width="12" height="1.2" fill="#9e9b9e"/><path d="M24 19 H38 V38 H24 Z" fill="#4a4448"/><path d="M27 16 L37 16.5 L37 19 L28 20 Z" fill="#8a5a4c"/><path d="M17 26 L25 24 L26 38 L17 38 Z" fill="#6a6468"/><circle cx="20.6" cy="7" r="2.3" fill="#9a5c56"/><path d="M13.5 12 Q20 10 25.5 12 L25 20.5 Q20.5 21.5 16 20.5 L12.5 14.5 Z" fill="#dc5a7c"/><path d="M12.5 14.5 L9.5 20 L11 20.5 L14 16 Z" fill="#d87a80"/><path d="M18.5 20.5 H24.5 L24 27 L23 34 H20.5 L19.5 27 Z" fill="#7896c4"/><path d="M20.6 28 H22.6 V33.5 H20.6 Z" fill="#6a88b8"/></g>
<circle cx="1526.4" cy="40.8" r="5.5" fill="#52c41a" stroke="#ffffff" stroke-width="1.6"/>
<path d="M1553.8 23.6 L1559 28.8 L1564.2 23.6" stroke="#55525a" stroke-width="1.6" fill="none" />
<path d="M430.00 97.00 L430.04 96.72 L430.16 96.43 L430.33 96.11 L430.56 95.75 L430.81 95.36 L431.05 94.94 L431.26 94.48 L431.40 94.02 L431.45 93.56 L431.37 93.15 L431.05 92.87 L430.63 92.69 L430.16 92.58 L429.66 92.53 L429.17 92.53 L428.71 92.55 L428.29 92.57 L427.92 92.56 L427.61 92.52 L427.35 92.41 L427.13 92.24 L426.93 91.99 L426.74 91.67 L426.55 91.30 L426.34 90.89 L426.09 90.47 L425.80 90.06 L425.47 89.71 L425.10 89.43 L424.70 89.30 L424.30 89.43 L423.93 89.71 L423.60 90.06 L423.31 90.47 L423.06 90.89 L422.85 91.30 L422.66 91.67 L422.47 91.99 L422.27 92.24 L422.05 92.41 L421.79 92.52 L421.48 92.56 L421.11 92.57 L420.69 92.55 L420.23 92.53 L419.74 92.53 L419.24 92.58 L418.77 92.69 L418.35 92.87 L418.03 93.15 L417.95 93.56 L418.00 94.02 L418.14 94.48 L418.35 94.94 L418.59 95.36 L418.84 95.75 L419.07 96.11 L419.24 96.43 L419.36 96.72 L419.40 97.00 L419.36 97.28 L419.24 97.57 L419.07 97.89 L418.84 98.25 L418.59 98.64 L418.35 99.06 L418.14 99.52 L418.00 99.98 L417.95 100.44 L418.03 100.85 L418.35 101.13 L418.77 101.31 L419.24 101.42 L419.74 101.47 L420.23 101.47 L420.69 101.45 L421.11 101.43 L421.48 101.44 L421.79 101.48 L422.05 101.59 L422.27 101.76 L422.47 102.01 L422.66 102.33 L422.85 102.70 L423.06 103.11 L423.31 103.53 L423.60 103.94 L423.93 104.29 L424.30 104.57 L424.70 104.70 L425.10 104.57 L425.47 104.29 L425.80 103.94 L426.09 103.53 L426.34 103.11 L426.55 102.70 L426.74 102.33 L426.93 102.01 L427.13 101.76 L427.35 101.59 L427.61 101.48 L427.92 101.44 L428.29 101.43 L428.71 101.45 L429.17 101.47 L429.66 101.47 L430.16 101.42 L430.63 101.31 L431.05 101.13 L431.37 100.85 L431.45 100.44 L431.40 99.98 L431.26 99.52 L431.05 99.06 L430.81 98.64 L430.56 98.25 L430.33 97.89 L430.16 97.57 L430.04 97.28 Z" stroke="#8f8f96" stroke-width="1.5" fill="none" />
<circle cx="424.7" cy="97" r="2.4" stroke="#8f8f96" stroke-width="1.5" fill="none"/>
<path d="M495.4 91.4 V102.6 M489.8 97 H501" stroke="#fff" stroke-width="1.9" fill="none" />
<path d="M310.2 146.3 H318.6 Q320.4 146.3 320.4 148.1 V149.6 Q320.4 151.4 318.6 151.4 H310.2 Q308.4 151.4 308.4 149.6 V148.1 Q308.4 146.3 310.2 146.3 Z M310.2 153.5 H318.6 Q320.4 153.5 320.4 155.3 V156.7 Q320.4 158.5 318.6 158.5 H310.2 Q308.4 158.5 308.4 156.7 V155.3 Q308.4 153.5 310.2 153.5 Z" stroke="#8a50f8" stroke-width="1.4" fill="none" />
<path d="M410 147.2 H418.6 Q420.4 147.2 420.4 149 V156.8 Q420.4 158.6 418.6 158.6 H410 Q408.2 158.6 408.2 156.8 V149 Q408.2 147.2 410 147.2 Z M408.2 150.8 H420.4 M411.7 145.6 V148.2 M417 145.6 V148.2" stroke="#bdbcc4" stroke-width="1.3" fill="none" />
<path d="M602 90.6 H609.2 Q608.1 92.3 608.3 94.8 L610.3 98.6 H600.9 L602.9 94.8 Q603.1 92.3 602 90.6 Z M605.6 98.6 V103.2" stroke="#8a50f8" stroke-width="1.45" fill="none" />
<path d="M618 94.6 L622.3 98.9 L626.6 94.6" stroke="#a3a3ab" stroke-width="1.2" fill="none" />
<path d="M652.3 91.6 H658.3 Q659.5 91.6 659.5 92.8 V102.4 L655.4 99.9 L651.1 102.4 V92.8 Q651.1 91.6 652.3 91.6 Z M653.2 96.4 L654.9 97.9 L657.6 95" stroke="#8a50f8" stroke-width="1.4" fill="none" />
<path d="M753.8 94.3 L759.2 99.7 M759.2 94.3 L753.8 99.7" stroke="#fff" stroke-width="1.4" fill="none" />
<path d="M1428.2 91.6 Q1429.4 90.5 1430.6 91.6 L1432.6 93.6 Q1433.7 94.8 1432.6 96 L1427.3 101.3 H1424.2 L1422 99.1 Q1420.9 97.9 1422 96.7 Z M1424.7 94.3 L1429.9 99.5 M1427.3 101.3 H1433" stroke="#4a4a52" stroke-width="1.3" fill="none" />
<circle cx="1467.5" cy="94" r="1.6" stroke="#8c8c94" stroke-width="1.2" fill="none"/><circle cx="1461.8" cy="99.8" r="1.6" stroke="#8c8c94" stroke-width="1.2" fill="none"/>
<path d="M1459.6 94 H1465.9 M1463.4 99.8 H1469.8" stroke="#8c8c94" stroke-width="1.2" fill="none" />
<path d="M760.3 152.6 L764.8 157.1 L769.3 152.6" stroke="#aeaeb6" stroke-width="1.2" fill="none" />
<path d="M951.8 152.6 L956.3 157.1 L960.8 152.6" stroke="#aeaeb6" stroke-width="1.2" fill="none" />
<path d="M1143.3 152.6 L1147.8 157.1 L1152.3 152.6" stroke="#aeaeb6" stroke-width="1.2" fill="none" />
<path d="M1334.8 152.6 L1339.3 157.1 L1343.8 152.6" stroke="#aeaeb6" stroke-width="1.2" fill="none" />
<path d="M1526.3 152.6 L1530.8 157.1 L1535.3 152.6" stroke="#aeaeb6" stroke-width="1.2" fill="none" />
<path d="M338.40 236.00 L338.44 235.73 L338.55 235.44 L338.72 235.13 L338.93 234.78 L339.17 234.40 L339.40 233.99 L339.59 233.55 L339.73 233.09 L339.78 232.65 L339.70 232.25 L339.39 231.98 L338.98 231.80 L338.52 231.69 L338.04 231.64 L337.57 231.63 L337.12 231.64 L336.72 231.66 L336.36 231.65 L336.06 231.60 L335.80 231.50 L335.58 231.33 L335.39 231.09 L335.20 230.78 L335.01 230.43 L334.80 230.03 L334.55 229.63 L334.27 229.23 L333.95 228.89 L333.59 228.63 L333.20 228.50 L332.81 228.63 L332.45 228.89 L332.13 229.23 L331.85 229.63 L331.60 230.03 L331.39 230.43 L331.20 230.78 L331.01 231.09 L330.82 231.33 L330.60 231.50 L330.34 231.60 L330.04 231.65 L329.68 231.66 L329.28 231.64 L328.83 231.63 L328.36 231.64 L327.88 231.69 L327.42 231.80 L327.01 231.98 L326.70 232.25 L326.62 232.65 L326.67 233.09 L326.81 233.55 L327.00 233.99 L327.23 234.40 L327.47 234.78 L327.68 235.13 L327.85 235.44 L327.96 235.73 L328.00 236.00 L327.96 236.27 L327.85 236.56 L327.68 236.87 L327.47 237.22 L327.23 237.60 L327.00 238.01 L326.81 238.45 L326.67 238.91 L326.62 239.35 L326.70 239.75 L327.01 240.02 L327.42 240.20 L327.88 240.31 L328.36 240.36 L328.83 240.37 L329.28 240.36 L329.68 240.34 L330.04 240.35 L330.34 240.40 L330.60 240.50 L330.82 240.67 L331.01 240.91 L331.20 241.22 L331.39 241.57 L331.60 241.97 L331.85 242.37 L332.13 242.77 L332.45 243.11 L332.81 243.37 L333.20 243.50 L333.59 243.37 L333.95 243.11 L334.27 242.77 L334.55 242.37 L334.80 241.97 L335.01 241.57 L335.20 241.22 L335.39 240.91 L335.58 240.67 L335.80 240.50 L336.06 240.40 L336.36 240.35 L336.72 240.34 L337.12 240.36 L337.57 240.37 L338.04 240.36 L338.52 240.31 L338.98 240.20 L339.39 240.02 L339.70 239.75 L339.78 239.35 L339.73 238.91 L339.59 238.45 L339.40 238.01 L339.17 237.60 L338.93 237.22 L338.72 236.87 L338.55 236.56 L338.44 236.27 Z" stroke="#55555d" stroke-width="1.5" fill="none" />
<circle cx="333.2" cy="236" r="2.2" stroke="#55555d" stroke-width="1.5" fill="none"/>
<g transform="translate(0 0.00)"><path d="M367.2 278.4 C365.6 278.4 364.3 279.8 364.6 281.8 C365.4 286.5 370 291.6 375.2 292.4 C377.2 292.7 378.9 291.4 378.7 289.8 C378.5 288.6 377.4 287.6 376.2 287.3 C375.2 287.1 374.6 288.2 373.6 288.1 C371.8 287.7 369.2 285 368.7 283.2 C368.5 282.3 369.7 281.7 369.6 280.6 C369.5 279.3 368.4 278.4 367.2 278.4 Z" stroke="#3f3c45" stroke-width="1.35" fill="none" /><path d="M372.9 280.8 H379 M376.4 278 L379.2 280.8 L376.4 283.6" stroke="#3f3c45" stroke-width="1.4" fill="none" /></g>
<circle cx="567.2" cy="285.10" r="6.8" stroke="#4fc224" stroke-width="1.6" fill="none"/><path d="M567.2 281.50 V285.40 L569.8 287.40" stroke="#4fc224" stroke-width="1.6" fill="none" />
<path d="M778.6 286.20 A6.6 6.6 0 1 0 773 291.70 M772.2 281.30 V285.30 L774.4 286.80 M774.9 290.30 L776.5 291.80 L779.5 288.60" stroke="#fbab18" stroke-width="1.5" fill="none" />
<g transform="translate(935.10 268.70) scale(0.8579)" clip-path="url(#avc)"><rect x="0" y="0" width="38" height="38" fill="#8e8c90"/><rect x="0" y="0" width="38" height="12.5" fill="#2e282c"/><rect x="16.5" y="0" width="1.6" height="12" fill="#5a5458"/><rect x="26.5" y="2" width="1.4" height="10" fill="#5c5658"/><path d="M0 11 H6 L7 6 H12 V38 H0 Z" fill="#b4b4b8"/><path d="M1 14 H17 V38 H1 Z" fill="#c8c8cc"/><path d="M4 16 H12 V38 H4 Z" fill="#d6d6da"/><rect x="7.5" y="16" width="1" height="22" fill="#b0b0b4"/><rect x="13.5" y="16" width="1" height="22" fill="#a8a8ac"/><rect x="26" y="11" width="12" height="8" fill="#8a878a"/><rect x="26" y="13" width="12" height="1.2" fill="#a6a3a6"/><rect x="26" y="15.5" width="12" height="1.2" fill="#9e9b9e"/><path d="M24 19 H38 V38 H24 Z" fill="#4a4448"/><path d="M27 16 L37 16.5 L37 19 L28 20 Z" fill="#8a5a4c"/><path d="M17 26 L25 24 L26 38 L17 38 Z" fill="#6a6468"/><circle cx="20.6" cy="7" r="2.3" fill="#9a5c56"/><path d="M13.5 12 Q20 10 25.5 12 L25 20.5 Q20.5 21.5 16 20.5 L12.5 14.5 Z" fill="#dc5a7c"/><path d="M12.5 14.5 L9.5 20 L11 20.5 L14 16 Z" fill="#d87a80"/><path d="M18.5 20.5 H24.5 L24 27 L23 34 H20.5 L19.5 27 Z" fill="#7896c4"/><path d="M20.6 28 H22.6 V33.5 H20.6 Z" fill="#6a88b8"/></g>
<g transform="translate(0 0.00)"><path d="M366 327.6 H377.2 Q378.4 327.6 378.4 328.8 V339.2 Q378.4 340.4 377.2 340.4 H366 Q364.8 340.4 364.8 339.2 V328.8 Q364.8 327.6 366 327.6 Z M364.8 331.6 H378.4 M368.4 325.6 V329 M375 325.6 V329 M369.2 336.4 L371 338 L374.4 334.3" stroke="#3f3c45" stroke-width="1.4" fill="none" /></g>
<circle cx="567.2" cy="332.70" r="6.8" stroke="#4fc224" stroke-width="1.6" fill="none"/><path d="M567.2 329.10 V333.00 L569.8 335.00" stroke="#4fc224" stroke-width="1.6" fill="none" />
<path d="M778.6 333.80 A6.6 6.6 0 1 0 773 339.30 M772.2 328.90 V332.90 L774.4 334.40 M774.9 337.90 L776.5 339.40 L779.5 336.20" stroke="#fbab18" stroke-width="1.5" fill="none" />
<g transform="translate(935.10 316.30) scale(0.8579)" clip-path="url(#avc)"><rect x="0" y="0" width="38" height="38" fill="#8e8c90"/><rect x="0" y="0" width="38" height="12.5" fill="#2e282c"/><rect x="16.5" y="0" width="1.6" height="12" fill="#5a5458"/><rect x="26.5" y="2" width="1.4" height="10" fill="#5c5658"/><path d="M0 11 H6 L7 6 H12 V38 H0 Z" fill="#b4b4b8"/><path d="M1 14 H17 V38 H1 Z" fill="#c8c8cc"/><path d="M4 16 H12 V38 H4 Z" fill="#d6d6da"/><rect x="7.5" y="16" width="1" height="22" fill="#b0b0b4"/><rect x="13.5" y="16" width="1" height="22" fill="#a8a8ac"/><rect x="26" y="11" width="12" height="8" fill="#8a878a"/><rect x="26" y="13" width="12" height="1.2" fill="#a6a3a6"/><rect x="26" y="15.5" width="12" height="1.2" fill="#9e9b9e"/><path d="M24 19 H38 V38 H24 Z" fill="#4a4448"/><path d="M27 16 L37 16.5 L37 19 L28 20 Z" fill="#8a5a4c"/><path d="M17 26 L25 24 L26 38 L17 38 Z" fill="#6a6468"/><circle cx="20.6" cy="7" r="2.3" fill="#9a5c56"/><path d="M13.5 12 Q20 10 25.5 12 L25 20.5 Q20.5 21.5 16 20.5 L12.5 14.5 Z" fill="#dc5a7c"/><path d="M12.5 14.5 L9.5 20 L11 20.5 L14 16 Z" fill="#d87a80"/><path d="M18.5 20.5 H24.5 L24 27 L23 34 H20.5 L19.5 27 Z" fill="#7896c4"/><path d="M20.6 28 H22.6 V33.5 H20.6 Z" fill="#6a88b8"/></g>
<g transform="translate(0 95.20)"><path d="M367.2 278.4 C365.6 278.4 364.3 279.8 364.6 281.8 C365.4 286.5 370 291.6 375.2 292.4 C377.2 292.7 378.9 291.4 378.7 289.8 C378.5 288.6 377.4 287.6 376.2 287.3 C375.2 287.1 374.6 288.2 373.6 288.1 C371.8 287.7 369.2 285 368.7 283.2 C368.5 282.3 369.7 281.7 369.6 280.6 C369.5 279.3 368.4 278.4 367.2 278.4 Z" stroke="#3f3c45" stroke-width="1.35" fill="none" /><path d="M372.9 280.8 H379 M376.4 278 L379.2 280.8 L376.4 283.6" stroke="#3f3c45" stroke-width="1.4" fill="none" /></g>
<circle cx="567.2" cy="380.30" r="6.8" stroke="#fab020" stroke-width="1.6" fill="none"/><path d="M567.2 376.70 V380.60 L569.8 382.60" stroke="#fab020" stroke-width="1.6" fill="none" />
<path d="M778.6 381.40 A6.6 6.6 0 1 0 773 386.90 M772.2 376.50 V380.50 L774.4 382.00 M774.9 385.50 L776.5 387.00 L779.5 383.80" stroke="#fbab18" stroke-width="1.5" fill="none" />
<g transform="translate(935.10 363.90) scale(0.8579)" clip-path="url(#avc)"><rect x="0" y="0" width="38" height="38" fill="#8e8c90"/><rect x="0" y="0" width="38" height="12.5" fill="#2e282c"/><rect x="16.5" y="0" width="1.6" height="12" fill="#5a5458"/><rect x="26.5" y="2" width="1.4" height="10" fill="#5c5658"/><path d="M0 11 H6 L7 6 H12 V38 H0 Z" fill="#b4b4b8"/><path d="M1 14 H17 V38 H1 Z" fill="#c8c8cc"/><path d="M4 16 H12 V38 H4 Z" fill="#d6d6da"/><rect x="7.5" y="16" width="1" height="22" fill="#b0b0b4"/><rect x="13.5" y="16" width="1" height="22" fill="#a8a8ac"/><rect x="26" y="11" width="12" height="8" fill="#8a878a"/><rect x="26" y="13" width="12" height="1.2" fill="#a6a3a6"/><rect x="26" y="15.5" width="12" height="1.2" fill="#9e9b9e"/><path d="M24 19 H38 V38 H24 Z" fill="#4a4448"/><path d="M27 16 L37 16.5 L37 19 L28 20 Z" fill="#8a5a4c"/><path d="M17 26 L25 24 L26 38 L17 38 Z" fill="#6a6468"/><circle cx="20.6" cy="7" r="2.3" fill="#9a5c56"/><path d="M13.5 12 Q20 10 25.5 12 L25 20.5 Q20.5 21.5 16 20.5 L12.5 14.5 Z" fill="#dc5a7c"/><path d="M12.5 14.5 L9.5 20 L11 20.5 L14 16 Z" fill="#d87a80"/><path d="M18.5 20.5 H24.5 L24 27 L23 34 H20.5 L19.5 27 Z" fill="#7896c4"/><path d="M20.6 28 H22.6 V33.5 H20.6 Z" fill="#6a88b8"/></g>
<g transform="translate(0 95.20)"><path d="M366 327.6 H377.2 Q378.4 327.6 378.4 328.8 V339.2 Q378.4 340.4 377.2 340.4 H366 Q364.8 340.4 364.8 339.2 V328.8 Q364.8 327.6 366 327.6 Z M364.8 331.6 H378.4 M368.4 325.6 V329 M375 325.6 V329 M369.2 336.4 L371 338 L374.4 334.3" stroke="#3f3c45" stroke-width="1.4" fill="none" /></g>
<circle cx="567.2" cy="427.90" r="6.8" stroke="#f5454b" stroke-width="1.6" fill="none"/><path d="M567.2 424.30 V428.20 L569.8 430.20" stroke="#f5454b" stroke-width="1.6" fill="none" />
<path d="M778.6 429.00 A6.6 6.6 0 1 0 773 434.50 M772.2 424.10 V428.10 L774.4 429.60 M774.9 433.10 L776.5 434.60 L779.5 431.40" stroke="#fbab18" stroke-width="1.5" fill="none" />
<g transform="translate(935.10 411.50) scale(0.8579)" clip-path="url(#avc)"><rect x="0" y="0" width="38" height="38" fill="#8e8c90"/><rect x="0" y="0" width="38" height="12.5" fill="#2e282c"/><rect x="16.5" y="0" width="1.6" height="12" fill="#5a5458"/><rect x="26.5" y="2" width="1.4" height="10" fill="#5c5658"/><path d="M0 11 H6 L7 6 H12 V38 H0 Z" fill="#b4b4b8"/><path d="M1 14 H17 V38 H1 Z" fill="#c8c8cc"/><path d="M4 16 H12 V38 H4 Z" fill="#d6d6da"/><rect x="7.5" y="16" width="1" height="22" fill="#b0b0b4"/><rect x="13.5" y="16" width="1" height="22" fill="#a8a8ac"/><rect x="26" y="11" width="12" height="8" fill="#8a878a"/><rect x="26" y="13" width="12" height="1.2" fill="#a6a3a6"/><rect x="26" y="15.5" width="12" height="1.2" fill="#9e9b9e"/><path d="M24 19 H38 V38 H24 Z" fill="#4a4448"/><path d="M27 16 L37 16.5 L37 19 L28 20 Z" fill="#8a5a4c"/><path d="M17 26 L25 24 L26 38 L17 38 Z" fill="#6a6468"/><circle cx="20.6" cy="7" r="2.3" fill="#9a5c56"/><path d="M13.5 12 Q20 10 25.5 12 L25 20.5 Q20.5 21.5 16 20.5 L12.5 14.5 Z" fill="#dc5a7c"/><path d="M12.5 14.5 L9.5 20 L11 20.5 L14 16 Z" fill="#d87a80"/><path d="M18.5 20.5 H24.5 L24 27 L23 34 H20.5 L19.5 27 Z" fill="#7896c4"/><path d="M20.6 28 H22.6 V33.5 H20.6 Z" fill="#6a88b8"/></g>
<g transform="translate(0 142.80)"><path d="M366 327.6 H377.2 Q378.4 327.6 378.4 328.8 V339.2 Q378.4 340.4 377.2 340.4 H366 Q364.8 340.4 364.8 339.2 V328.8 Q364.8 327.6 366 327.6 Z M364.8 331.6 H378.4 M368.4 325.6 V329 M375 325.6 V329 M369.2 336.4 L371 338 L374.4 334.3" stroke="#3f3c45" stroke-width="1.4" fill="none" /></g>
<circle cx="567.2" cy="475.50" r="6.8" stroke="#f5454b" stroke-width="1.6" fill="none"/><path d="M567.2 471.90 V475.80 L569.8 477.80" stroke="#f5454b" stroke-width="1.6" fill="none" />
<path d="M778.6 476.60 A6.6 6.6 0 1 0 773 482.10 M772.2 471.70 V475.70 L774.4 477.20 M774.9 480.70 L776.5 482.20 L779.5 479.00" stroke="#fbab18" stroke-width="1.5" fill="none" />
<g transform="translate(935.10 459.10) scale(0.8579)" clip-path="url(#avc)"><rect x="0" y="0" width="38" height="38" fill="#8e8c90"/><rect x="0" y="0" width="38" height="12.5" fill="#2e282c"/><rect x="16.5" y="0" width="1.6" height="12" fill="#5a5458"/><rect x="26.5" y="2" width="1.4" height="10" fill="#5c5658"/><path d="M0 11 H6 L7 6 H12 V38 H0 Z" fill="#b4b4b8"/><path d="M1 14 H17 V38 H1 Z" fill="#c8c8cc"/><path d="M4 16 H12 V38 H4 Z" fill="#d6d6da"/><rect x="7.5" y="16" width="1" height="22" fill="#b0b0b4"/><rect x="13.5" y="16" width="1" height="22" fill="#a8a8ac"/><rect x="26" y="11" width="12" height="8" fill="#8a878a"/><rect x="26" y="13" width="12" height="1.2" fill="#a6a3a6"/><rect x="26" y="15.5" width="12" height="1.2" fill="#9e9b9e"/><path d="M24 19 H38 V38 H24 Z" fill="#4a4448"/><path d="M27 16 L37 16.5 L37 19 L28 20 Z" fill="#8a5a4c"/><path d="M17 26 L25 24 L26 38 L17 38 Z" fill="#6a6468"/><circle cx="20.6" cy="7" r="2.3" fill="#9a5c56"/><path d="M13.5 12 Q20 10 25.5 12 L25 20.5 Q20.5 21.5 16 20.5 L12.5 14.5 Z" fill="#dc5a7c"/><path d="M12.5 14.5 L9.5 20 L11 20.5 L14 16 Z" fill="#d87a80"/><path d="M18.5 20.5 H24.5 L24 27 L23 34 H20.5 L19.5 27 Z" fill="#7896c4"/><path d="M20.6 28 H22.6 V33.5 H20.6 Z" fill="#6a88b8"/></g>
<g transform="translate(0 190.40)"><path d="M366 327.6 H377.2 Q378.4 327.6 378.4 328.8 V339.2 Q378.4 340.4 377.2 340.4 H366 Q364.8 340.4 364.8 339.2 V328.8 Q364.8 327.6 366 327.6 Z M364.8 331.6 H378.4 M368.4 325.6 V329 M375 325.6 V329 M369.2 336.4 L371 338 L374.4 334.3" stroke="#3f3c45" stroke-width="1.4" fill="none" /></g>
<circle cx="567.2" cy="523.10" r="6.8" stroke="#f5454b" stroke-width="1.6" fill="none"/><path d="M567.2 519.50 V523.40 L569.8 525.40" stroke="#f5454b" stroke-width="1.6" fill="none" />
<path d="M778.6 524.20 A6.6 6.6 0 1 0 773 529.70 M772.2 519.30 V523.30 L774.4 524.80 M774.9 528.30 L776.5 529.80 L779.5 526.60" stroke="#fbab18" stroke-width="1.5" fill="none" />
<g transform="translate(935.10 506.70) scale(0.8579)" clip-path="url(#avc)"><rect x="0" y="0" width="38" height="38" fill="#8e8c90"/><rect x="0" y="0" width="38" height="12.5" fill="#2e282c"/><rect x="16.5" y="0" width="1.6" height="12" fill="#5a5458"/><rect x="26.5" y="2" width="1.4" height="10" fill="#5c5658"/><path d="M0 11 H6 L7 6 H12 V38 H0 Z" fill="#b4b4b8"/><path d="M1 14 H17 V38 H1 Z" fill="#c8c8cc"/><path d="M4 16 H12 V38 H4 Z" fill="#d6d6da"/><rect x="7.5" y="16" width="1" height="22" fill="#b0b0b4"/><rect x="13.5" y="16" width="1" height="22" fill="#a8a8ac"/><rect x="26" y="11" width="12" height="8" fill="#8a878a"/><rect x="26" y="13" width="12" height="1.2" fill="#a6a3a6"/><rect x="26" y="15.5" width="12" height="1.2" fill="#9e9b9e"/><path d="M24 19 H38 V38 H24 Z" fill="#4a4448"/><path d="M27 16 L37 16.5 L37 19 L28 20 Z" fill="#8a5a4c"/><path d="M17 26 L25 24 L26 38 L17 38 Z" fill="#6a6468"/><circle cx="20.6" cy="7" r="2.3" fill="#9a5c56"/><path d="M13.5 12 Q20 10 25.5 12 L25 20.5 Q20.5 21.5 16 20.5 L12.5 14.5 Z" fill="#dc5a7c"/><path d="M12.5 14.5 L9.5 20 L11 20.5 L14 16 Z" fill="#d87a80"/><path d="M18.5 20.5 H24.5 L24 27 L23 34 H20.5 L19.5 27 Z" fill="#7896c4"/><path d="M20.6 28 H22.6 V33.5 H20.6 Z" fill="#6a88b8"/></g>
<g transform="translate(0 238.00)"><path d="M366 327.6 H377.2 Q378.4 327.6 378.4 328.8 V339.2 Q378.4 340.4 377.2 340.4 H366 Q364.8 340.4 364.8 339.2 V328.8 Q364.8 327.6 366 327.6 Z M364.8 331.6 H378.4 M368.4 325.6 V329 M375 325.6 V329 M369.2 336.4 L371 338 L374.4 334.3" stroke="#3f3c45" stroke-width="1.4" fill="none" /></g>
<circle cx="567.2" cy="570.70" r="6.8" stroke="#6e6e76" stroke-width="1.6" fill="none"/><path d="M567.2 567.10 V571.00 L569.8 573.00" stroke="#6e6e76" stroke-width="1.6" fill="none" />
<path d="M766 570.40 L769.4 573.80 L776.2 567.00" stroke="#4fc224" stroke-width="1.7" fill="none" />
<g transform="translate(935.10 554.30) scale(0.8579)" clip-path="url(#avc)"><rect x="0" y="0" width="38" height="38" fill="#8e8c90"/><rect x="0" y="0" width="38" height="12.5" fill="#2e282c"/><rect x="16.5" y="0" width="1.6" height="12" fill="#5a5458"/><rect x="26.5" y="2" width="1.4" height="10" fill="#5c5658"/><path d="M0 11 H6 L7 6 H12 V38 H0 Z" fill="#b4b4b8"/><path d="M1 14 H17 V38 H1 Z" fill="#c8c8cc"/><path d="M4 16 H12 V38 H4 Z" fill="#d6d6da"/><rect x="7.5" y="16" width="1" height="22" fill="#b0b0b4"/><rect x="13.5" y="16" width="1" height="22" fill="#a8a8ac"/><rect x="26" y="11" width="12" height="8" fill="#8a878a"/><rect x="26" y="13" width="12" height="1.2" fill="#a6a3a6"/><rect x="26" y="15.5" width="12" height="1.2" fill="#9e9b9e"/><path d="M24 19 H38 V38 H24 Z" fill="#4a4448"/><path d="M27 16 L37 16.5 L37 19 L28 20 Z" fill="#8a5a4c"/><path d="M17 26 L25 24 L26 38 L17 38 Z" fill="#6a6468"/><circle cx="20.6" cy="7" r="2.3" fill="#9a5c56"/><path d="M13.5 12 Q20 10 25.5 12 L25 20.5 Q20.5 21.5 16 20.5 L12.5 14.5 Z" fill="#dc5a7c"/><path d="M12.5 14.5 L9.5 20 L11 20.5 L14 16 Z" fill="#d87a80"/><path d="M18.5 20.5 H24.5 L24 27 L23 34 H20.5 L19.5 27 Z" fill="#7896c4"/><path d="M20.6 28 H22.6 V33.5 H20.6 Z" fill="#6a88b8"/></g>
<g transform="translate(0 285.60)"><path d="M366 327.6 H377.2 Q378.4 327.6 378.4 328.8 V339.2 Q378.4 340.4 377.2 340.4 H366 Q364.8 340.4 364.8 339.2 V328.8 Q364.8 327.6 366 327.6 Z M364.8 331.6 H378.4 M368.4 325.6 V329 M375 325.6 V329 M369.2 336.4 L371 338 L374.4 334.3" stroke="#3f3c45" stroke-width="1.4" fill="none" /></g>
<circle cx="567.2" cy="618.30" r="6.8" stroke="#6e6e76" stroke-width="1.6" fill="none"/><path d="M567.2 614.70 V618.60 L569.8 620.60" stroke="#6e6e76" stroke-width="1.6" fill="none" />
<path d="M766 618.00 L769.4 621.40 L776.2 614.60" stroke="#4fc224" stroke-width="1.7" fill="none" />
<g transform="translate(935.10 601.90) scale(0.8579)" clip-path="url(#avc)"><rect x="0" y="0" width="38" height="38" fill="#8e8c90"/><rect x="0" y="0" width="38" height="12.5" fill="#2e282c"/><rect x="16.5" y="0" width="1.6" height="12" fill="#5a5458"/><rect x="26.5" y="2" width="1.4" height="10" fill="#5c5658"/><path d="M0 11 H6 L7 6 H12 V38 H0 Z" fill="#b4b4b8"/><path d="M1 14 H17 V38 H1 Z" fill="#c8c8cc"/><path d="M4 16 H12 V38 H4 Z" fill="#d6d6da"/><rect x="7.5" y="16" width="1" height="22" fill="#b0b0b4"/><rect x="13.5" y="16" width="1" height="22" fill="#a8a8ac"/><rect x="26" y="11" width="12" height="8" fill="#8a878a"/><rect x="26" y="13" width="12" height="1.2" fill="#a6a3a6"/><rect x="26" y="15.5" width="12" height="1.2" fill="#9e9b9e"/><path d="M24 19 H38 V38 H24 Z" fill="#4a4448"/><path d="M27 16 L37 16.5 L37 19 L28 20 Z" fill="#8a5a4c"/><path d="M17 26 L25 24 L26 38 L17 38 Z" fill="#6a6468"/><circle cx="20.6" cy="7" r="2.3" fill="#9a5c56"/><path d="M13.5 12 Q20 10 25.5 12 L25 20.5 Q20.5 21.5 16 20.5 L12.5 14.5 Z" fill="#dc5a7c"/><path d="M12.5 14.5 L9.5 20 L11 20.5 L14 16 Z" fill="#d87a80"/><path d="M18.5 20.5 H24.5 L24 27 L23 34 H20.5 L19.5 27 Z" fill="#7896c4"/><path d="M20.6 28 H22.6 V33.5 H20.6 Z" fill="#6a88b8"/></g>
<g transform="translate(0 333.20)"><path d="M366 327.6 H377.2 Q378.4 327.6 378.4 328.8 V339.2 Q378.4 340.4 377.2 340.4 H366 Q364.8 340.4 364.8 339.2 V328.8 Q364.8 327.6 366 327.6 Z M364.8 331.6 H378.4 M368.4 325.6 V329 M375 325.6 V329 M369.2 336.4 L371 338 L374.4 334.3" stroke="#3f3c45" stroke-width="1.4" fill="none" /></g>
<circle cx="567.2" cy="665.90" r="6.8" stroke="#f5454b" stroke-width="1.6" fill="none"/><path d="M567.2 662.30 V666.20 L569.8 668.20" stroke="#f5454b" stroke-width="1.6" fill="none" />
<path d="M778.6 667.00 A6.6 6.6 0 1 0 773 672.50 M772.2 662.10 V666.10 L774.4 667.60 M774.9 671.10 L776.5 672.60 L779.5 669.40" stroke="#fbab18" stroke-width="1.5" fill="none" />
<g transform="translate(935.10 649.50) scale(0.8579)" clip-path="url(#avc)"><rect x="0" y="0" width="38" height="38" fill="#8e8c90"/><rect x="0" y="0" width="38" height="12.5" fill="#2e282c"/><rect x="16.5" y="0" width="1.6" height="12" fill="#5a5458"/><rect x="26.5" y="2" width="1.4" height="10" fill="#5c5658"/><path d="M0 11 H6 L7 6 H12 V38 H0 Z" fill="#b4b4b8"/><path d="M1 14 H17 V38 H1 Z" fill="#c8c8cc"/><path d="M4 16 H12 V38 H4 Z" fill="#d6d6da"/><rect x="7.5" y="16" width="1" height="22" fill="#b0b0b4"/><rect x="13.5" y="16" width="1" height="22" fill="#a8a8ac"/><rect x="26" y="11" width="12" height="8" fill="#8a878a"/><rect x="26" y="13" width="12" height="1.2" fill="#a6a3a6"/><rect x="26" y="15.5" width="12" height="1.2" fill="#9e9b9e"/><path d="M24 19 H38 V38 H24 Z" fill="#4a4448"/><path d="M27 16 L37 16.5 L37 19 L28 20 Z" fill="#8a5a4c"/><path d="M17 26 L25 24 L26 38 L17 38 Z" fill="#6a6468"/><circle cx="20.6" cy="7" r="2.3" fill="#9a5c56"/><path d="M13.5 12 Q20 10 25.5 12 L25 20.5 Q20.5 21.5 16 20.5 L12.5 14.5 Z" fill="#dc5a7c"/><path d="M12.5 14.5 L9.5 20 L11 20.5 L14 16 Z" fill="#d87a80"/><path d="M18.5 20.5 H24.5 L24 27 L23 34 H20.5 L19.5 27 Z" fill="#7896c4"/><path d="M20.6 28 H22.6 V33.5 H20.6 Z" fill="#6a88b8"/></g>
<g transform="translate(0 380.80)"><path d="M366 327.6 H377.2 Q378.4 327.6 378.4 328.8 V339.2 Q378.4 340.4 377.2 340.4 H366 Q364.8 340.4 364.8 339.2 V328.8 Q364.8 327.6 366 327.6 Z M364.8 331.6 H378.4 M368.4 325.6 V329 M375 325.6 V329 M369.2 336.4 L371 338 L374.4 334.3" stroke="#3f3c45" stroke-width="1.4" fill="none" /></g>
<circle cx="567.2" cy="713.50" r="6.8" stroke="#f5454b" stroke-width="1.6" fill="none"/><path d="M567.2 709.90 V713.80 L569.8 715.80" stroke="#f5454b" stroke-width="1.6" fill="none" />
<path d="M778.6 714.60 A6.6 6.6 0 1 0 773 720.10 M772.2 709.70 V713.70 L774.4 715.20 M774.9 718.70 L776.5 720.20 L779.5 717.00" stroke="#fbab18" stroke-width="1.5" fill="none" />
<g transform="translate(935.10 697.10) scale(0.8579)" clip-path="url(#avc)"><rect x="0" y="0" width="38" height="38" fill="#8e8c90"/><rect x="0" y="0" width="38" height="12.5" fill="#2e282c"/><rect x="16.5" y="0" width="1.6" height="12" fill="#5a5458"/><rect x="26.5" y="2" width="1.4" height="10" fill="#5c5658"/><path d="M0 11 H6 L7 6 H12 V38 H0 Z" fill="#b4b4b8"/><path d="M1 14 H17 V38 H1 Z" fill="#c8c8cc"/><path d="M4 16 H12 V38 H4 Z" fill="#d6d6da"/><rect x="7.5" y="16" width="1" height="22" fill="#b0b0b4"/><rect x="13.5" y="16" width="1" height="22" fill="#a8a8ac"/><rect x="26" y="11" width="12" height="8" fill="#8a878a"/><rect x="26" y="13" width="12" height="1.2" fill="#a6a3a6"/><rect x="26" y="15.5" width="12" height="1.2" fill="#9e9b9e"/><path d="M24 19 H38 V38 H24 Z" fill="#4a4448"/><path d="M27 16 L37 16.5 L37 19 L28 20 Z" fill="#8a5a4c"/><path d="M17 26 L25 24 L26 38 L17 38 Z" fill="#6a6468"/><circle cx="20.6" cy="7" r="2.3" fill="#9a5c56"/><path d="M13.5 12 Q20 10 25.5 12 L25 20.5 Q20.5 21.5 16 20.5 L12.5 14.5 Z" fill="#dc5a7c"/><path d="M12.5 14.5 L9.5 20 L11 20.5 L14 16 Z" fill="#d87a80"/><path d="M18.5 20.5 H24.5 L24 27 L23 34 H20.5 L19.5 27 Z" fill="#7896c4"/><path d="M20.6 28 H22.6 V33.5 H20.6 Z" fill="#6a88b8"/></g>
<path d="M1369 768.2 H1377.8 L1373.4 772.8 Z" fill="#55555d"/>
<path d="M1517.2 764.4 L1511.6 769.2 L1517.2 774" stroke="#b5b5bc" stroke-width="1.4" fill="none" />
<path d="M1549.3 764.4 L1554.9 769.2 L1549.3 774" stroke="#b5b5bc" stroke-width="1.4" fill="none" />
</svg>
</body></html>
